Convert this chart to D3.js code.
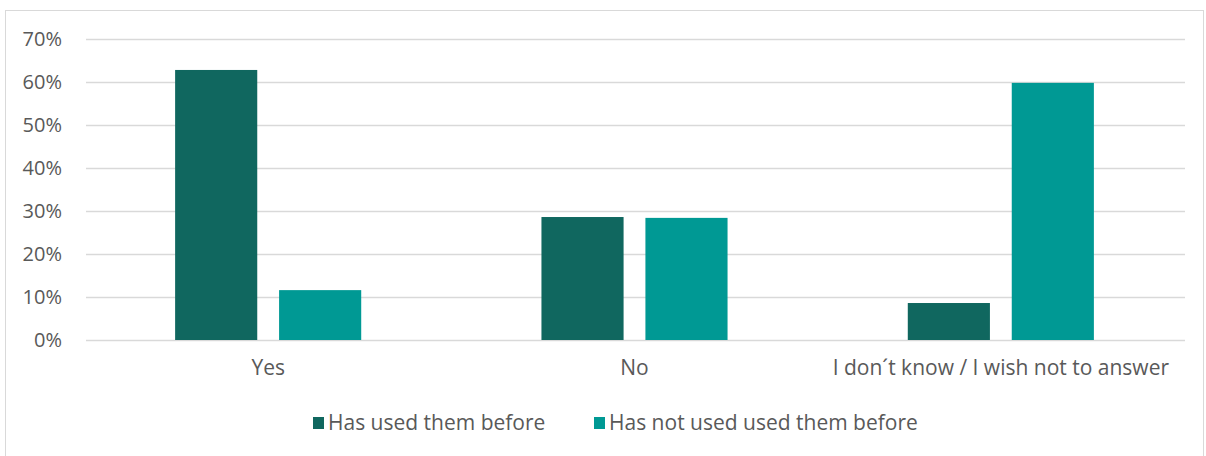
<!DOCTYPE html>
<html>
<head>
<meta charset="utf-8">
<script src="https://cdn.jsdelivr.net/npm/d3@7"></script>
<style>
  html, body { margin: 0; padding: 0; background: #fff; }
  svg { display: block; font-family: "Open Sans", "Noto Sans", sans-serif; }
</style>
</head>
<body>
<svg id="chart" width="1206" height="456"></svg>
<script>
// Survey answers, split by prior use
const categories = ["Yes", "No", "I don´t know / I wish not to answer"];
const seriesNames = ["Has used them before", "Has not used used them before"];
const usedBefore = [0.628, 0.286, 0.086];
const notUsedBefore = [0.116, 0.284, 0.598];
const yTicks = [0, 0.1, 0.2, 0.3, 0.4, 0.5, 0.6, 0.7];
const colors = ["#10675f", "#009994"];

const svg = d3.select("#chart");
const W = 1206, H = 456;
const textColor = "#595959";

// outer chart frame
svg.append("rect")
  .attr("x", 5.5).attr("y", 10.5)
  .attr("width", W - 8).attr("height", H - 8)
  .attr("fill", "#fff").attr("stroke", "#d9d9d9").attr("stroke-width", 1);

const plot = { left: 86, right: 1185, top: 39, bottom: 340 };

const y = d3.scaleLinear().domain([0, 0.7]).range([plot.bottom, plot.top]);
const x0 = d3.scaleBand().domain(categories).range([plot.left - 1, plot.right - 1]);
const inner = x0.bandwidth();
const x1 = d3.scaleBand().domain(seriesNames)
  .range([inner * 0.246, inner * 0.754]).paddingInner(0.21);

// gridlines + tick labels via d3 axis
const yAxis = d3.axisLeft(y).tickValues(yTicks)
  .tickFormat(d3.format(".0%"))
  .tickSize(-(plot.right - plot.left)).tickPadding(24);
const gy = svg.append("g").attr("transform", `translate(${plot.left},0)`).call(yAxis);
gy.select(".domain").remove();
gy.selectAll(".tick line").attr("stroke", "#d9d9d9").attr("stroke-width", 1.3);
gy.selectAll(".tick text")
  .attr("fill", textColor).attr("font-size", 20)
  .attr("font-family", "\"Open Sans\", \"Noto Sans\", sans-serif");

// bars
const rows = categories.map((c, i) => ({ cat: c, vals: [usedBefore[i], notUsedBefore[i]] }));
const groups = svg.append("g").selectAll("g").data(rows).join("g")
  .attr("transform", d => `translate(${x0(d.cat)},0)`);
groups.selectAll("rect")
  .data(d => d.vals.map((v, j) => ({ name: seriesNames[j], v, j })))
  .join("rect")
  .attr("x", d => x1(d.name))
  .attr("width", x1.bandwidth())
  .attr("y", d => y(d.v))
  .attr("height", d => y(0) - y(d.v))
  .attr("fill", d => colors[d.j]);

// category axis labels
const xAxis = d3.axisBottom(x0).tickSize(0).tickPadding(20);
const gx = svg.append("g").attr("transform", `translate(0,${plot.bottom})`).call(xAxis);
gx.select(".domain").remove();
gx.selectAll(".tick text").attr("fill", textColor).attr("font-size", 21)
  .attr("font-family", "\"Open Sans\", \"Noto Sans\", sans-serif");

// legend
const legendX = [313, 594];
const legend = svg.append("g").selectAll("g").data(seriesNames).join("g")
  .attr("transform", (d, i) => `translate(${legendX[i]},423)`);
legend.append("rect")
  .attr("x", 0).attr("y", -6).attr("width", 11).attr("height", 12)
  .attr("fill", (d, i) => colors[i]);
legend.append("text")
  .attr("x", 15).attr("y", 0).attr("dy", "0.35em")
  .attr("fill", textColor).attr("font-size", 21)
  .text(d => d);
</script>
</body>
</html>
